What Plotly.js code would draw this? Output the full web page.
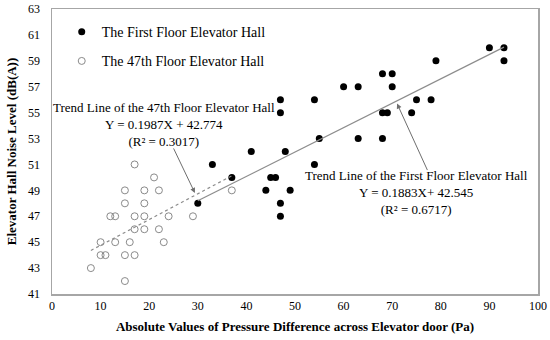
<!DOCTYPE html>
<html>
<head>
<meta charset="utf-8">
<script src="https://cdn.plot.ly/plotly-3.0.1.min.js"></script>
<style>html,body{margin:0;padding:0;background:#fff;}#chart{width:550px;height:340px;}</style>
</head>
<body>
<div id="chart"></div>
<script>
// First floor elevator hall data
const firstX = [30,33,37,41,44,45,46,47,47,47,47,48,49,54,54,55,60,63,63,68,68,68,69,70,70,74,75,78,79,90,93,93];
const firstY = [48,51,50,52,49,50,50,48,47,55,56,52,49,51,56,53,57,57,53,58,55,53,55,58,57,55,56,56,59,60,60,59];
// 47th floor elevator hall data
const floor47X = [17,21,15,19,22,37,15,19,12,13,17,19,24,29,17,19,22,10,13,16,23,10,11,15,17,8,15];
const floor47Y = [51,50,49,49,49,49,48,48,47,47,47,47,47,47,46,46,46,45,45,45,45,44,44,44,44,43,42];
// Trend lines (from the chart's equations)
const firstSlope = 0.1883, firstIntercept = 42.545, firstRange = [30, 93];
const f47Slope = 0.1987, f47Intercept = 42.774, f47Range = [8, 37];
const xTicks = [0,10,20,30,40,50,60,70,80,90,100];
const yTicks = [41,43,45,47,49,51,53,55,57,59,61,63];

const FONT = "Liberation Serif, Times New Roman, serif";

const traces = [
  {x: firstX, y: firstY, type: 'scatter', mode: 'markers', name: 'The First Floor Elevator Hall',
   legendgroup: 'a', marker: {symbol: 'circle', size: 7, color: '#000'}},
  {x: floor47X, y: floor47Y, type: 'scatter', mode: 'markers', name: 'The 47th Floor Elevator Hall',
   legendgroup: 'b', marker: {symbol: 'circle-open', size: 7, color: '#8a8a8a', line: {width: 1, color: '#8a8a8a'}}},
  {x: firstRange, y: firstRange.map(v => firstSlope * v + firstIntercept), type: 'scatter', mode: 'lines',
   showlegend: false, line: {color: '#8c8c8c', width: 1.2}, hoverinfo: 'skip'},
  {x: f47Range, y: f47Range.map(v => f47Slope * v + f47Intercept), type: 'scatter', mode: 'lines',
   showlegend: false, line: {color: '#8c8c8c', width: 1.2, dash: 'dot'}, hoverinfo: 'skip'}
];

const layout = {
  width: 550, height: 340,
  margin: {l: 52, r: 12, t: 9, b: 46},
  paper_bgcolor: '#fff', plot_bgcolor: '#fff',
  font: {family: FONT, size: 12, color: '#000'},
  showlegend: true,
  legend: {x: 0.02, y: 0.975, xanchor: 'left', yanchor: 'top', traceorder: 'grouped', tracegroupgap: 8,
           font: {family: FONT, size: 14, color: '#000'}, bgcolor: 'rgba(0,0,0,0)'},
  xaxis: {range: [0, 100], tickvals: xTicks, ticktext: xTicks.map(String), showgrid: false, zeroline: false,
          showline: true, mirror: true, linecolor: '#a6a6a6', linewidth: 1.5, ticks: '',
          tickfont: {family: FONT, size: 12, color: '#000'},
          title: {text: 'Absolute Values of Pressure Difference across Elevator door (Pa)', standoff: 10,
                  font: {family: FONT, size: 13, color: '#000', weight: 'bold'}}},
  yaxis: {range: [41, 63], tickvals: yTicks, ticktext: yTicks.map(String), showgrid: false, zeroline: false,
          showline: true, mirror: true, linecolor: '#a6a6a6', linewidth: 1.5, ticks: '',
          tickfont: {family: FONT, size: 12, color: '#000'}, ticklabelstandoff: 8,
          title: {text: 'Elevator Hall Noise Level (dB(A))', standoff: 8,
                  font: {family: FONT, size: 13, color: '#000', weight: 'bold'}}},
  annotations: [
    {x: 23.0, y: 54.1, xref: 'x', yref: 'y', showarrow: false, align: 'center',
     text: 'Trend Line of the 47th Floor Elevator Hall<br>Y = 0.1987X + 42.774<br>(R² = 0.3017)',
     font: {family: FONT, size: 13, color: '#000'}},
    {x: 75.0, y: 48.8, xref: 'x', yref: 'y', showarrow: false, align: 'center',
     text: 'Trend Line of the First Floor Elevator Hall<br>Y = 0.1883X+ 42.545<br>(R² = 0.6717)',
     font: {family: FONT, size: 13, color: '#000'}},
    {x: 29.4, y: 48.8, xref: 'x', yref: 'y', text: '', showarrow: true, ax: -22, ay: -46,
     arrowhead: 2, arrowsize: 1, arrowwidth: 1, arrowcolor: '#6e6e6e'},
    {x: 71, y: 55.7, xref: 'x', yref: 'y', text: '', showarrow: true, ax: 31, ay: 68,
     arrowhead: 2, arrowsize: 1, arrowwidth: 1, arrowcolor: '#6e6e6e'}
  ]
};

Plotly.newPlot('chart', traces, layout, {staticPlot: true, displayModeBar: false});
</script>
</body>
</html>
